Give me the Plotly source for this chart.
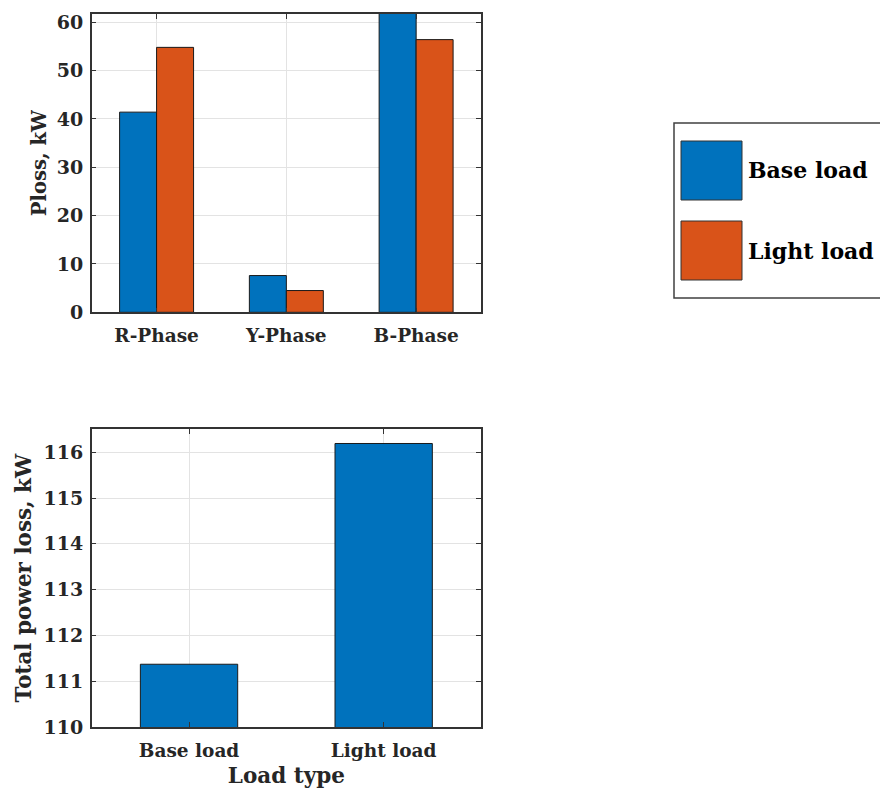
import plotly.graph_objects as go

# Per-phase power loss (kW)
phases = ["R-Phase", "Y-Phase", "B-Phase"]
base_load_loss = [41.4, 7.6, 62.4]
light_load_loss = [54.8, 4.5, 56.4]

# Total power loss per load type (kW)
load_types = ["Base load", "Light load"]
total_loss = [111.37, 116.19]

series_names = ["Base load", "Light load"]
series_colors = ["#0072BD", "#D95319"]

W, H = 880, 789
FONT = "DejaVu Serif"
AXIS_COLOR = "#333333"
GRID_COLOR = "#e3e3e3"
TEXT_COLOR = "#262626"


def px_x(x):
    return x / W


def px_y(y):
    return 1 - y / H


fig = go.Figure()

for name, vals, col in zip(series_names, [base_load_loss, light_load_loss], series_colors):
    fig.add_trace(go.Bar(
        x=phases, y=vals, name=name, marker=dict(color=col, line=dict(color="#1a1a1a", width=1)),
        xaxis="x", yaxis="y", showlegend=False,
    ))

fig.add_trace(go.Bar(
    x=load_types, y=total_loss, marker=dict(color=series_colors[0], line=dict(color="#1a1a1a", width=1)),
    xaxis="x2", yaxis="y2", showlegend=False, width=0.5,
))

axis_common = dict(
    showline=True, linecolor=AXIS_COLOR, linewidth=1.5, mirror="allticks",
    ticks="inside", ticklen=5, tickcolor=AXIS_COLOR,
    showgrid=True, gridcolor=GRID_COLOR, gridwidth=1,
    zeroline=False, automargin=False,
)
xtick_font = dict(family=FONT, size=18.5, color=TEXT_COLOR, weight="bold")
ytick_font = dict(family=FONT, size=19, color=TEXT_COLOR, weight="bold")
title_font = dict(family=FONT, size=21.5, color=TEXT_COLOR, weight="bold")
small_title_font = dict(family=FONT, size=19.5, color=TEXT_COLOR, weight="bold")

fig.update_layout(
    width=W, height=H, margin=dict(l=0, r=0, t=0, b=0),
    paper_bgcolor="white", plot_bgcolor="white",
    barmode="group", bargap=0.43, bargroupgap=0,
    font=dict(family=FONT, color=TEXT_COLOR),
    xaxis=dict(axis_common, domain=[px_x(91.7), px_x(481)], anchor="y",
               range=[-0.5, 2.5], type="category", tickfont=xtick_font, ticklabelstandoff=6),
    yaxis=dict(axis_common, domain=[px_y(312.3), px_y(14)], anchor="x",
               range=[0, 61.7], tickvals=[0, 10, 20, 30, 40, 50, 60], tickfont=ytick_font,
               ticklabelstandoff=3,
               title=dict(text="Ploss, kW", font=small_title_font, standoff=5)),
    xaxis2=dict(axis_common, domain=[px_x(91.7), px_x(481)], anchor="y2",
                range=[-0.5, 1.5], type="category", tickfont=xtick_font, ticklabelstandoff=6,
                title=dict(text="Load type", font=title_font, standoff=8)),
    yaxis2=dict(axis_common, domain=[px_y(727), px_y(429.3)], anchor="x2",
                range=[110, 116.5], tickvals=[110, 111, 112, 113, 114, 115, 116], tickfont=ytick_font,
                ticklabelstandoff=3,
                title=dict(text="Total power loss, kW", font=title_font, standoff=6)),
)

# Legend box drawn at the right side
shapes = [dict(type="rect", xref="paper", yref="paper",
               x0=px_x(674), x1=px_x(900), y0=px_y(298), y1=px_y(123),
               line=dict(color="#404040", width=1.5), fillcolor="white")]
annotations = []
legend_rows = [(141, 200), (221, 280)]
for (y0, y1), name, col in zip(legend_rows, series_names, series_colors):
    shapes.append(dict(type="rect", xref="paper", yref="paper",
                       x0=px_x(681), x1=px_x(742), y0=px_y(y1), y1=px_y(y0),
                       line=dict(color="#333333", width=1), fillcolor=col))
    annotations.append(dict(xref="paper", yref="paper", x=px_x(746), y=px_y((y0 + y1) / 2),
                            xanchor="left", yanchor="middle", showarrow=False,
                            text=f"<b>{name}</b>", font=dict(family=FONT, size=22, color="black")))

fig.update_layout(shapes=shapes, annotations=annotations)

fig.write_html("out.html")
